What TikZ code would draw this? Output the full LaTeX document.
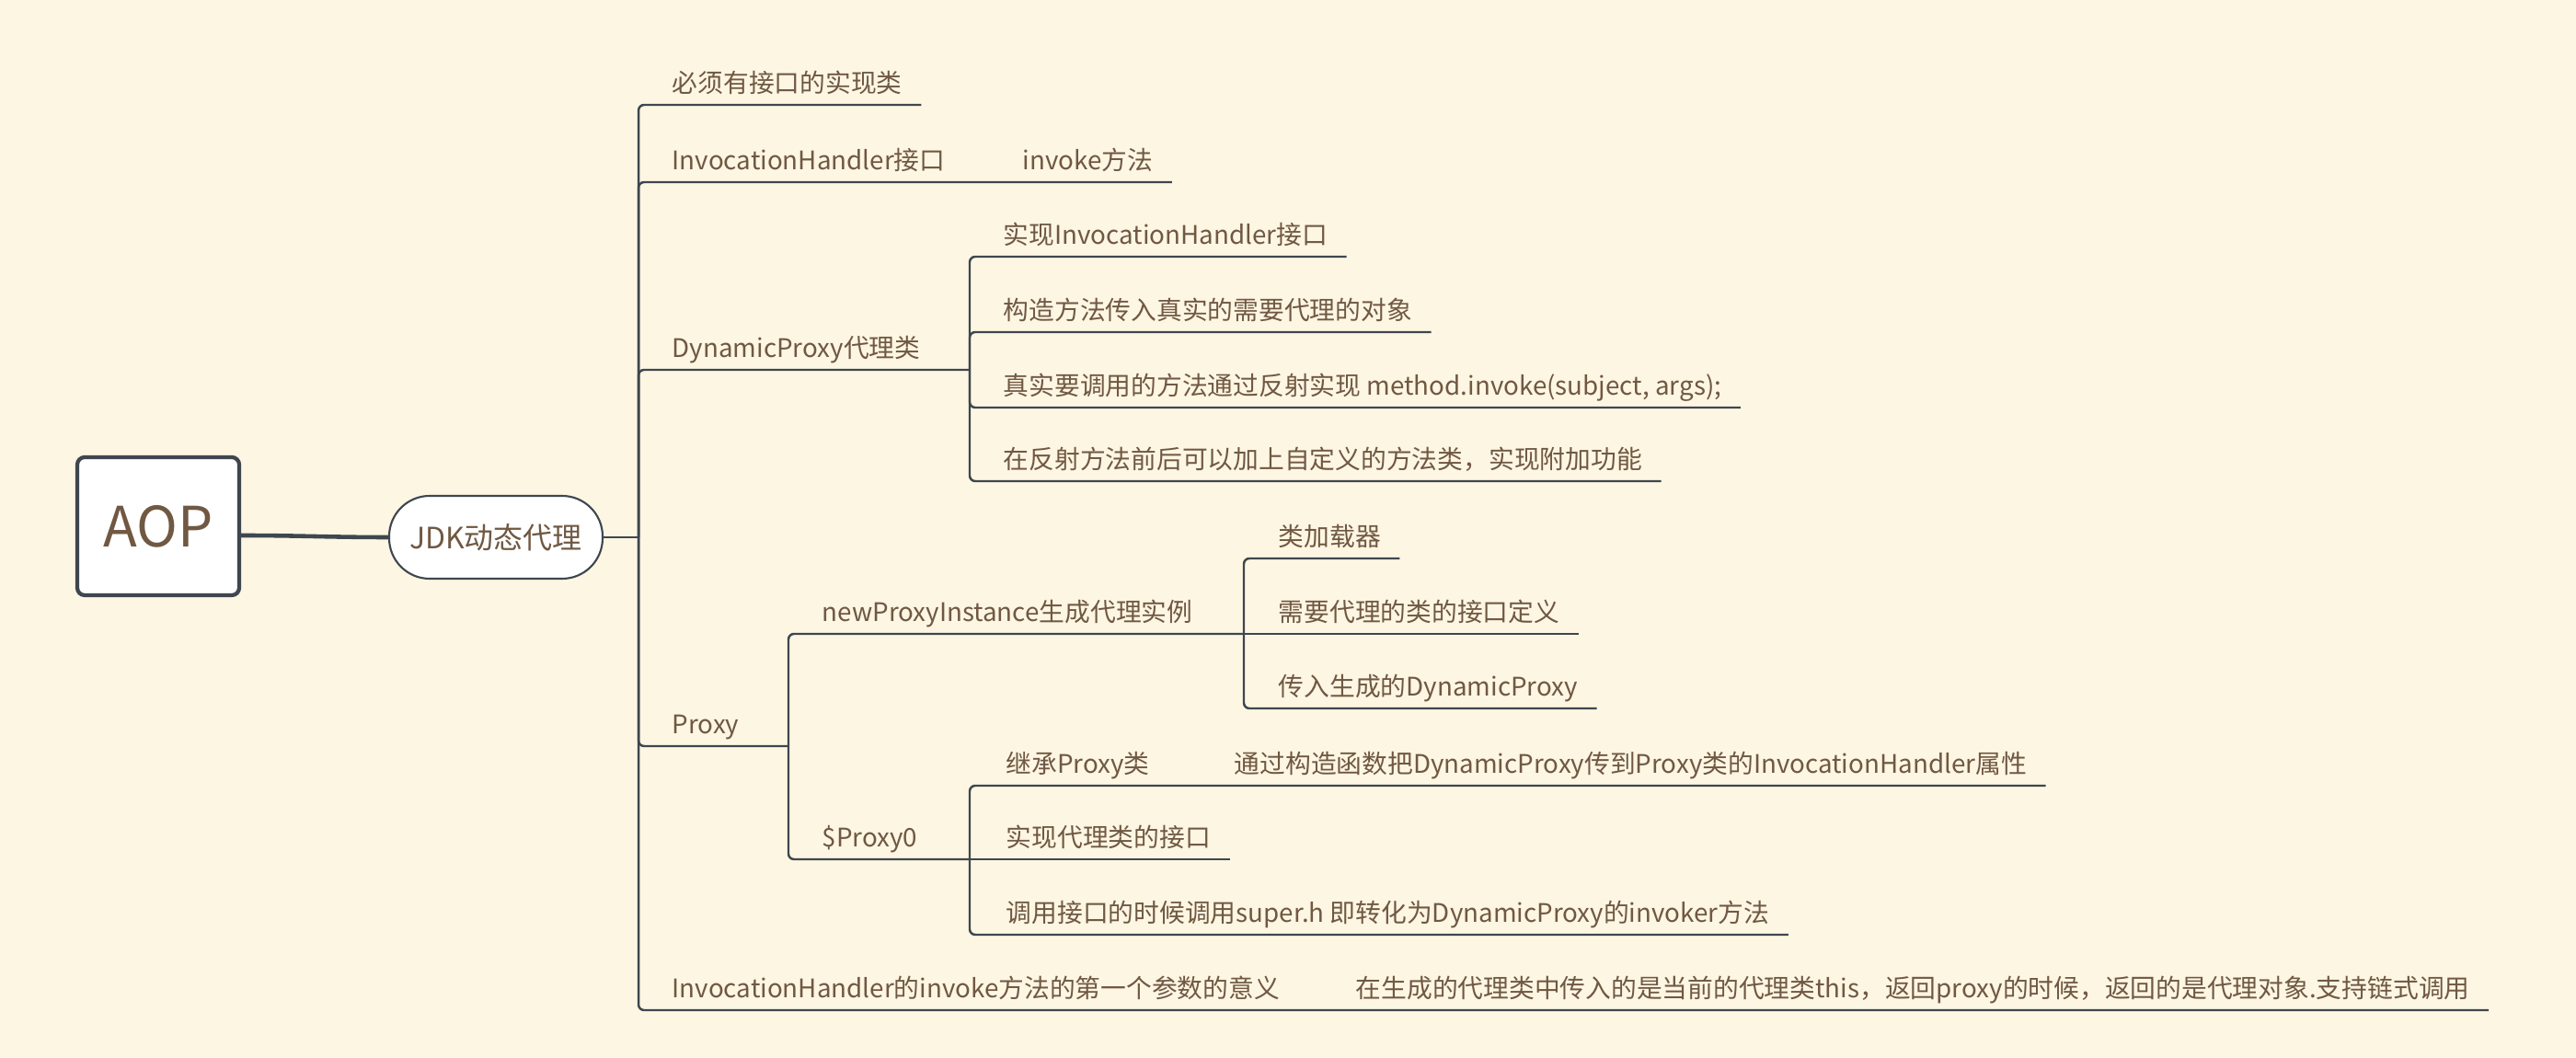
\documentclass[tikz,border=0pt]{standalone}
\usepackage{fontspec}
\setmainfont{Noto Sans CJK SC}
\usepackage{tikz}
\usetikzlibrary{positioning,calc}
\definecolor{paper}{HTML}{FDF6E3}
\definecolor{ink}{HTML}{3E474F}
\definecolor{textc}{HTML}{705842}

\begin{document}
\begin{tikzpicture}[
  y=-1cm,
  font=\fontsize{7.9}{10}\selectfont,
  topic/.style={anchor=south west, text=textc, inner xsep=2mm, inner ysep=0.7mm,
    text height=2.2mm, text depth=0.6mm},
  branch/.style={draw=ink, line width=0.7pt, rounded corners=0.6mm},
  rootbox/.style={draw=ink, fill=white, line width=1.2pt, rounded corners=0.8mm,
    minimum width=17.6mm, minimum height=15mm, text=textc, font=\fontsize{17.2}{19}\selectfont},
  hub/.style={draw=ink, fill=white, line width=0.6pt, rounded corners=4.4mm,
    minimum width=23.2mm, minimum height=9mm, text=textc, font=\fontsize{9.1}{11}\selectfont},
]
\useasboundingbox (0,0) rectangle (28,11.5);
\fill[paper] (0,0) rectangle (28,11.5);

% ---------- centre ----------
\node[rootbox] (aop) at (1.72,5.72) {AOP};
\node[hub] (jdk) at (5.39,5.84) {JDK动态代理};
\draw[ink, line width=1.3pt] ([yshift=-1mm]aop.east) to[out=0,in=180] (jdk.west);
\coordinate (j0) at ([xshift=3.8mm]jdk.east);
\draw[branch] (jdk.east) -- (j0);

% ---------- first level ----------
\node[topic] (b1) at (7.10,1.14) {必须有接口的实现类};
\node[topic] (b2) at (7.10,1.98) {InvocationHandler接口};
\node[topic] (b2a) at (10.91,1.98) {invoke方法};
\node[topic] (b3) at (7.10,4.02) {DynamicProxy代理类};
\node[topic] (b4) at (7.10,8.11) {Proxy};
\node[topic] (b5) at (7.10,10.98) {InvocationHandler的invoke方法的第一个参数的意义};
\node[topic] (b5a) at (14.53,10.98)
  {在生成的代理类中传入的是当前的代理类this，返回proxy的时候，返回的是代理对象.支持链式调用};

\draw[branch] (j0) |- (b1.south west) -- (b1.south east);
\draw[branch] (j0) |- (b2.south west) -- (b2.south east) -- (b2a.south west) -- (b2a.south east);
\draw[branch] (j0) |- (b5.south west) -- (b5.south east) -- (b5a.south west) -- (b5a.south east);

% ---------- DynamicProxy ----------
\coordinate (j3) at (10.54,4.02);
\draw[branch] (j0) |- (b3.south west) -- (b3.south east) -- (j3);
\foreach \n/\y/\t in {c31/2.79/{实现InvocationHandler接口},
                      c32/3.61/{构造方法传入真实的需要代理的对象},
                      c33/4.43/{真实要调用的方法通过反射实现 method.invoke(subject, args);},
                      c34/5.23/{在反射方法前后可以加上自定义的方法类，实现附加功能}} {
  \node[topic] (\n) at (10.70,\y) {\t};
  \draw[branch] (j3) |- (\n.south west) -- (\n.south east);
}

% ---------- Proxy ----------
\coordinate (j4) at (8.57,8.11);
\draw[branch] (j0) |- (b4.south west) -- (b4.south east) -- (j4);

\node[topic] (d1) at (8.73,6.89) {newProxyInstance生成代理实例};
\node[topic] (d2) at (8.73,9.34) {\$Proxy0};
\coordinate (j41) at (13.52,6.89);
\coordinate (j42) at (10.54,9.34);
\draw[branch] (j4) |- (d1.south west) -- (d1.south east) -- (j41);
\draw[branch] (j4) |- (d2.south west) -- (d2.south east) -- (j42);

% newProxyInstance arguments
\node[topic] (e1) at (13.69,6.07) {类加载器};
\node[topic] (e2) at (13.69,6.89) {需要代理的类的接口定义};
\node[topic] (e3) at (13.69,7.70) {传入生成的DynamicProxy};
\draw[branch] (j41) |- (e1.south west) -- (e1.south east);
\draw[branch] (j41) -- (e2.south west) -- (e2.south east);
\draw[branch] (j41) |- (e3.south west) -- (e3.south east);

% $Proxy0
\node[topic] (f1) at (10.73,8.54) {继承Proxy类};
\node[topic] (f1a) at (13.21,8.54) {通过构造函数把DynamicProxy传到Proxy类的InvocationHandler属性};
\node[topic] (f2) at (10.73,9.34) {实现代理类的接口};
\node[topic] (f3) at (10.73,10.16) {调用接口的时候调用super.h 即转化为DynamicProxy的invoker方法};
\draw[branch] (j42) |- (f1.south west) -- (f1.south east) -- (f1a.south west) -- (f1a.south east);
\draw[branch] (j42) -- (f2.south west) -- (f2.south east);
\draw[branch] (j42) |- (f3.south west) -- (f3.south east);

\end{tikzpicture}
\end{document}
